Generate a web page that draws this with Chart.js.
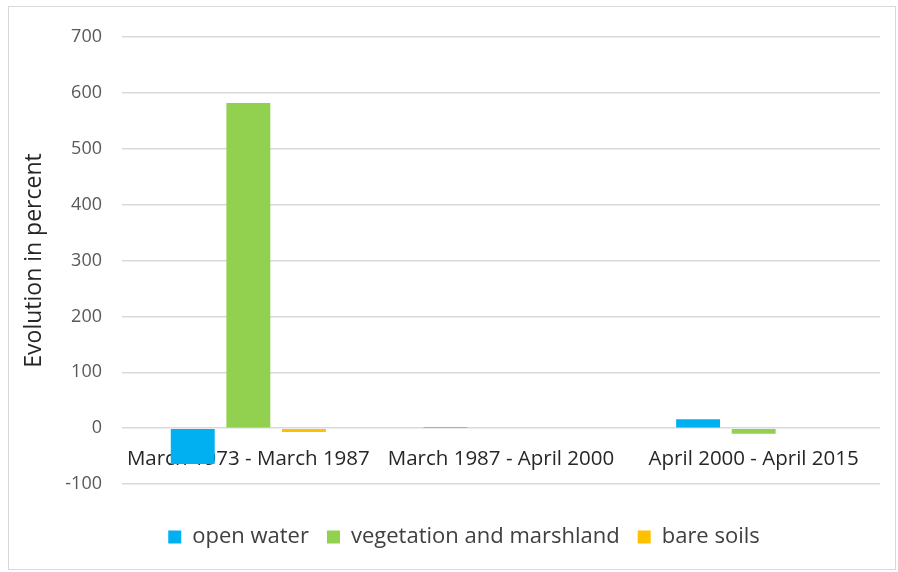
<!DOCTYPE html>
<html>
<head>
<meta charset="utf-8">
<script src="https://cdn.jsdelivr.net/npm/chart.js@4"></script>
<style>
  body { margin: 0; background: #fff; }
  #wrap { position: relative; width: 898px; height: 572px; }
  #frame { position: absolute; left: 8px; top: 6px; width: 888px; height: 564px; border: 1px solid #d9d9d9; box-sizing: border-box; pointer-events: none; }
</style>
</head>
<body>
<div id="wrap">
  <canvas id="monGraphique" width="898" height="572"></canvas>
  <div id="frame"></div>
</div>
<script>
// Periodes (categories)
let periodes = ['March 1973 - March 1987', 'March 1987 - April 2000', 'April 2000 - April 2015'];

// Valeurs (evolution en %)
let openWater = [-64, 2, 16];
let vegetation = [582, 0, -10];
let bareSoils = [-7, 0, 0];

// Graduations de l'axe Y
let yMin = -100;
let yMax = 700;
let yStep = 100;

const fontName = '"Open Sans", Lato, sans-serif';

const ctx = document.getElementById('monGraphique').getContext('2d');
const myChart = new Chart(ctx, {
    type: 'bar',
    data: {
        labels: periodes,
        datasets: [
            { label: 'open water', data: openWater, backgroundColor: '#00B0F0' },
            { label: 'vegetation and marshland', data: vegetation, backgroundColor: '#92D050' },
            { label: 'bare soils', data: bareSoils, backgroundColor: '#FFC000' }
        ]
    },
    options: {
        responsive: false,
        animation: false,
        datasets: {
            bar: { barPercentage: 0.79, categoryPercentage: 0.66 }
        },
        // le padding gauche recentre la legende, l'axe Y reste a 122px
        layout: { padding: { left: 48, right: 18, top: 37, bottom: 14 } },
        plugins: {
            tooltip: { enabled: false },
            legend: {
                position: 'bottom',
                // titre vide = espace entre l'axe et la legende
                title: { display: true, text: ' ', padding: 6, font: { size: 10 } },
                labels: {
                    boxWidth: 13,
                    boxHeight: 13,
                    padding: 18,
                    color: '#404040',
                    font: { family: fontName, size: 22 }
                }
            }
        },
        scales: {
            x: {
                position: { y: 0 },
                grid: { display: false, drawTicks: false },
                border: { display: false },
                ticks: {
                    maxRotation: 0,
                    autoSkip: false,
                    padding: 19,
                    color: '#262626',
                    font: { family: fontName, size: 20.5 }
                }
            },
            y: {
                min: yMin,
                max: yMax,
                ticks: {
                    stepSize: yStep,
                    padding: 20,
                    color: '#595959',
                    font: { family: fontName, size: 18 }
                },
                grid: { color: '#d9d9d9', lineWidth: 1.5, drawTicks: false },
                border: { display: false },
                title: {
                    display: true,
                    text: 'Evolution in percent',
                    color: '#262626',
                    padding: { top: -27, bottom: 0 },
                    font: { family: fontName, size: 23 }
                },
                afterFit: function (scale) {
                    scale.width = 74;
                }
            }
        }
    }
});
</script>
</body>
</html>
